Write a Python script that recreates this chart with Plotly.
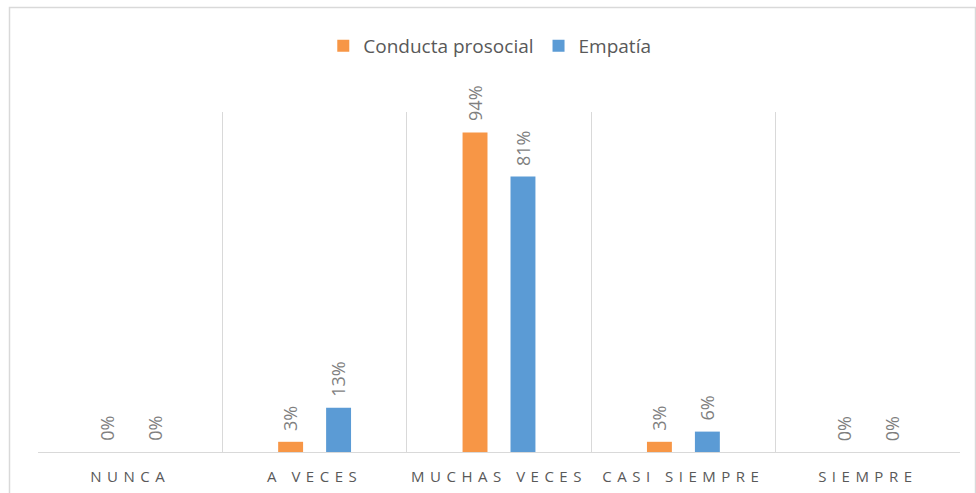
import plotly.graph_objects as go

categories = ["NUNCA", "A VECES", "MUCHAS VECES", "CASI SIEMPRE", "SIEMPRE"]
conducta = [0, 3, 94, 3, 0]
empatia = [0, 13, 81, 6, 0]
labels_conducta = ["0%", "3%", "94%", "3%", "0%"]
labels_empatia = ["0%", "13%", "81%", "6%", "0%"]

ORANGE = "#F79646"
BLUE = "#5B9BD5"
TXT = "#595959"
LBL = "#7F7F7F"
GRID = "#D9D9D9"

W, H = 976, 493
ml, mr, mt, mb = 38, 16, 112, 41
pw, ph = W - ml - mr, H - mt - mb
BARGAP = 0.48

fig = go.Figure()
series = [("Conducta prosocial", conducta, labels_conducta, ORANGE, -1),
          ("Empatía", empatia, labels_empatia, BLUE, 1)]
annotations = []
for name, vals, labs, col, side in series:
    fig.add_trace(go.Bar(x=categories, y=vals, name=name, marker_color=col, marker_line_width=0))
    off = side * (1 - BARGAP) / 4
    for i, (v, t) in enumerate(zip(vals, labs)):
        annotations.append(dict(
            x=i + off, y=v, xref="x", yref="y", text=t, showarrow=False,
            textangle=-90, xanchor="center", yanchor="bottom", yshift=9,
            font=dict(family="Open Sans", size=18, color=LBL)))

fig.update_layout(
    width=W, height=H,
    margin=dict(l=ml, r=mr, t=mt, b=mb, autoexpand=False),
    paper_bgcolor="white", plot_bgcolor="white",
    barmode="group", bargap=BARGAP, bargroupgap=0.48,
    showlegend=True,
    legend=dict(orientation="h", x=0.49, xanchor="center", y=1.0 + (mt - 46) / ph, yanchor="middle",
                font=dict(family="Open Sans", size=19, color=TXT), itemwidth=30, traceorder="normal"),
    xaxis=dict(tickson="boundaries", showgrid=True, gridcolor=GRID, gridwidth=1, automargin=False,
               ticks="", showline=True, linecolor=GRID, linewidth=1,
               tickfont=dict(family="Open Sans", size=15, color=TXT), ticklabelstandoff=11),
    yaxis=dict(range=[0, 100], showgrid=False, showticklabels=False, zeroline=False, showline=False,
               automargin=False),
    font=dict(family="Open Sans"),
    annotations=annotations,
    shapes=[dict(type="rect", xref="paper", yref="paper",
                 x0=(9.5 - ml) / pw, x1=(975.5 - ml) / pw,
                 y0=-(mb + 20) / ph, y1=1 + (mt - 7.5) / ph,
                 line=dict(color=GRID, width=1.5), layer="below")],
)

post = """
document.body.style.margin = '0';
var gd = document.getElementsByClassName('plotly-graph-div')[0];
function sp(){
  gd.querySelectorAll('.xtick text').forEach(function(t){ t.style.letterSpacing = '5.5px'; });
}
sp();
gd.on('plotly_afterplot', sp);
"""
fig.write_html("out.html", post_script=post, config={"displayModeBar": False})
